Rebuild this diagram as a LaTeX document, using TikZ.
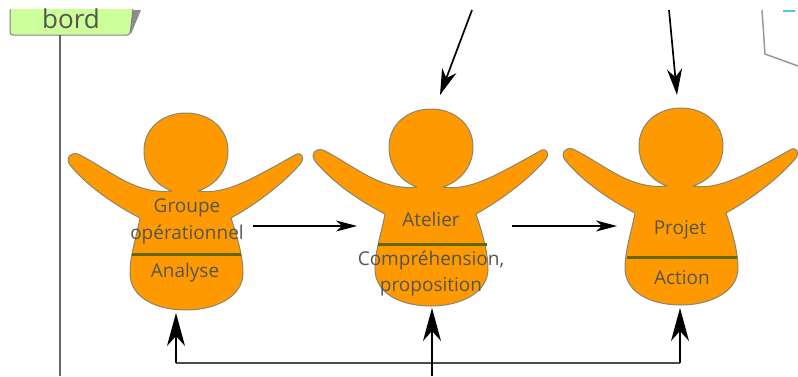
\documentclass[tikz,border=0pt]{standalone}
\usepackage{fontspec}
\setmainfont{Open Sans}
\usetikzlibrary{arrows.meta}
\definecolor{bodyor}{HTML}{FF9900}
\definecolor{edgegr}{HTML}{8A8570}
\definecolor{barol}{HTML}{666600}
\definecolor{txtgr}{HTML}{55554F}
\definecolor{boxgr}{HTML}{CCFF99}
\tikzset{
  x=1pt,y=-1pt,
  personshape/.style={fill=bodyor,draw=edgegr,line width=1pt,line join=round},
  barline/.style={draw=barol,line width=3pt},
  lab/.style={text=txtgr,font=\fontsize{19}{22}\selectfont,inner sep=0pt,align=center},
  connh/.style={draw=black,line width=1.2pt,-{Stealth[length=21pt,width=11pt,inset=6pt]}},
  connt/.style={draw=black,line width=1.7pt,-{Stealth[length=26pt,width=15pt,inset=8pt]}},
  connv/.style={draw=black,line width=1.5pt,-{Stealth[length=33pt,width=18pt,inset=10pt]}},
  rail/.style={draw=black!70,line width=1.5pt},
  side/.style={draw=black!60,line width=1.5pt},
}
\newcommand{\drawperson}[2]{%
  \path[personshape,shift={(#1,#2)}]
    (172,191) .. controls (155,185) and (144,170) .. (144,151)
    .. controls (144,128) and (163,113) .. (186,113)
    .. controls (209,113) and (228,128) .. (228,151)
    .. controls (228,170) and (216,185) .. (198,191)
    .. controls (225,195) and (250,180) .. (295,155)
    .. controls (301,151) and (305,157) .. (301,163)
    .. controls (285,182) and (258,203) .. (231,218)
    .. controls (236,233) and (243,255) .. (243,273)
    .. controls (243,297) and (215,310) .. (186,310)
    .. controls (155,310) and (130,297) .. (130,273)
    .. controls (130,255) and (137,235) .. (140,218)
    .. controls (115,205) and (88,187) .. (70,165)
    .. controls (65,158) and (70,152) .. (78,154)
    .. controls (110,170) and (135,195) .. (172,191) -- cycle;
}
\begin{document}
\begin{tikzpicture}
\useasboundingbox (0,0) rectangle (798,376);
% left box and its line
\fill[black!45] (130,10) -- (141,10) -- (131,34) -- cycle;
\path[fill=boxgr,draw=black!50,line width=1pt,rounded corners=3pt] (10,9) -- (10,35) -- (130,35) -- (133,9);
\node[text=txtgr,font=\fontsize{26}{28}\selectfont,inner sep=0pt] (bord) at (71,19) {bord};
\coordinate (boxbottom) at (60,35);
\coordinate (linebottom) at (60,376);
\draw[side] (boxbottom) -- (linebottom);
% top-right fragment
\coordinate (fa) at (762,10);
\coordinate (fb) at (765,54);
\coordinate (fc) at (798,66);
\draw[draw=black!40,line width=1.5pt] (fa) -- (fb) -- (fc);
\fill[cyan!70] (783,10) rectangle (795,12);
% persons
\drawperson{0}{0}
\drawperson{245}{-4}
\drawperson{495}{-5}
% bars
\draw[barline] (132,254) -- (241,254);
\draw[barline] (378,244) -- (487,244);
\draw[barline] (627,257) -- (737,257);
% labels
\node[lab] (groupe) at (187,208) {Groupe};
\node[lab] (oper) at (187,234) {opérationnel};
\node[lab] (analyse) at (185,273) {Analyse};
\node[lab] (atelier) at (431,219) {Atelier};
\node[lab] (compr) at (431,260) {Compréhension,};
\node[lab] (propo) at (431,287) {proposition};
\node[lab] (projet) at (680,230) {Projet};
\node[lab] (action) at (682,278) {Action};
% connector ends
\coordinate (t1a) at (472,10);
\coordinate (t1b) at (440,95);
\coordinate (t2a) at (669,10);
\coordinate (t2b) at (677,95);
\coordinate (p1e) at (253,226);
\coordinate (p2w) at (357,226);
\coordinate (p2e) at (512,226);
\coordinate (p3w) at (617,226);
\coordinate (p1s) at (176,313);
\coordinate (p2s) at (432,308);
\coordinate (p3s) at (680,308);
\coordinate (r1) at (176,363);
\coordinate (r3) at (680,363);
\coordinate (in) at (432,376);
\draw[connt] (t1a) -- (t1b);
\draw[connt] (t2a) -- (t2b);
\draw[connh] (p1e) -- (p2w);
\draw[connh] (p2e) -- (p3w);
\draw[rail] (r1) -- (r3);
\draw[connv] (r1) -- (p1s);
\draw[connv] (r3) -- (p3s);
\draw[connv] (in) -- (p2s);
\end{tikzpicture}
\end{document}
